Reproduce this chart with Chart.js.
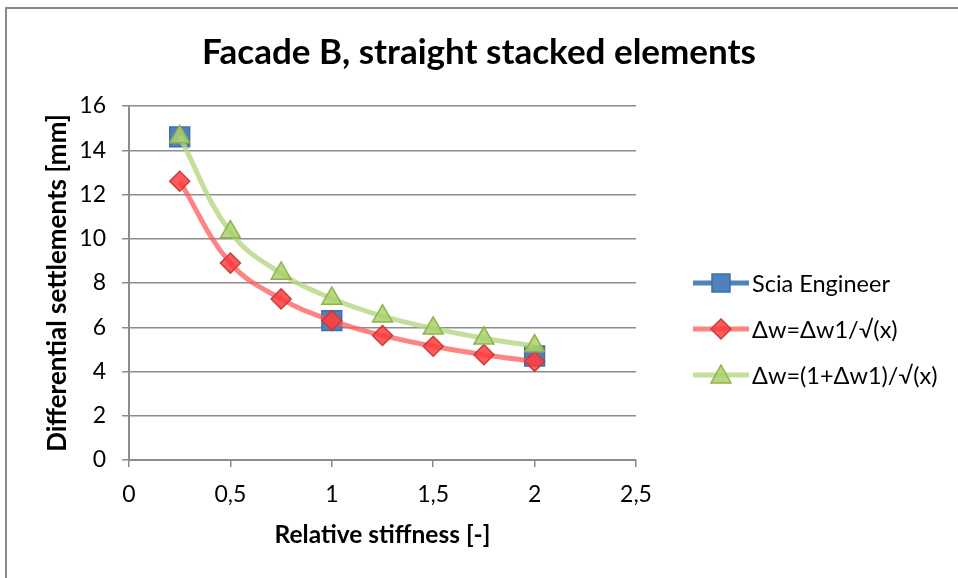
<!DOCTYPE html>
<html>
<head>
<meta charset="utf-8">
<script src="https://cdn.jsdelivr.net/npm/chart.js@4.4.1/dist/chart.umd.min.js"></script>
<style>
    html, body { margin: 0; padding: 0; background: #fff; }
    body { width: 958px; height: 578px; position: relative; overflow: hidden; font-family: Lato, sans-serif; }
    .frame { position: absolute; left: 5px; top: 7px; width: 1200px; height: 1200px; border-left: 2px solid #8a8a8a; border-top: 2px solid #8a8a8a; }
    #chartBox { position: absolute; left: 0; top: 0; width: 958px; height: 578px; }
    #legend { position: absolute; left: 693px; top: 270px; }
    .legend-row { position: absolute; left: 0; height: 26px; display: flex; align-items: center; white-space: nowrap; font-size: 23.5px; color: #000; }
    .legend-row svg { margin-right: 3px; }
</style>
</head>
<body>
<div class="frame"></div>
<div id="chartBox"><canvas id="chart" width="958" height="578"></canvas></div>
<div id="legend"></div>
<script>
// values
const xValues = [0.25, 0.5, 0.75, 1, 1.25, 1.5, 1.75, 2];
const sciaX = [0.25, 1, 2];
const sciaY = [14.6, 6.3, 4.7];
const formulaY = [12.6, 8.9, 7.28, 6.3, 5.63, 5.14, 4.76, 4.46];
const formulaPlusOneY = [14.6, 10.3, 8.43, 7.3, 6.5, 5.95, 5.5, 5.15];
const seriesNames = ['Scia Engineer', 'Δw=Δw1/√(x)', 'Δw=(1+Δw1)/√(x)'];
const yTicks = [0, 2, 4, 6, 8, 10, 12, 14, 16];
const xTicks = [0, 0.5, 1, 1.5, 2, 2.5];

const gridColor = '#8c8c8c';
const toPoints = (xs, ys) => xs.map((x, i) => ({ x: x, y: ys[i] }));

const series = [
    { name: seriesNames[0], data: toPoints(sciaX, sciaY), line: '#4f81bd', fill: '#4f81bd', border: '#3f6fa8', style: 'rect', radius: 14, showLine: false },
    { name: seriesNames[1], data: toPoints(xValues, formulaY), line: 'rgba(255,90,90,0.75)', fill: 'rgba(255,60,60,0.85)', border: '#c0403d', style: 'rectRot', radius: 10, showLine: true },
    { name: seriesNames[2], data: toPoints(xValues, formulaPlusOneY), line: 'rgba(180,215,130,0.8)', fill: 'rgba(170,210,110,0.85)', border: '#8fb34a', style: 'triangle', radius: 11.5, showLine: true }
];

const ctx = document.getElementById('chart').getContext('2d');
new Chart(ctx, {
    type: 'scatter',
    data: {
        datasets: series.map((s, i) => ({
            label: s.name,
            data: s.data,
            showLine: s.showLine,
            borderColor: s.line,
            borderWidth: 5,
            tension: 0.4,
            pointStyle: s.style,
            pointRadius: s.radius,
            pointHoverRadius: s.radius,
            pointBackgroundColor: s.fill,
            pointBorderColor: s.border,
            pointBorderWidth: 1.5,
            order: 3 - i
        }))
    },
    options: {
        responsive: false,
        animation: false,
        layout: { padding: 0 },
        plugins: {
            legend: { display: false },
            tooltip: { enabled: false },
            title: {
                display: true,
                text: 'Facade B, straight stacked elements',
                color: '#000',
                font: { family: 'Lato', size: 35, weight: 'bold' },
                padding: { top: 32, bottom: 32 }
            }
        },
        scales: {
            x: {
                type: 'linear',
                min: 0,
                max: 2.5,
                afterBuildTicks: scale => { scale.ticks = xTicks.map(v => ({ value: v })); },
                afterFit: scale => { scale.height = 118; },
                ticks: {
                    color: '#000',
                    font: { family: 'Lato', size: 23 },
                    padding: 14,
                    maxRotation: 0,
                    callback: v => String(v).replace('.', ',')
                },
                grid: { drawOnChartArea: false, drawTicks: true, tickLength: 7, color: gridColor, lineWidth: 1.5 },
                border: { color: gridColor, width: 2 },
                title: {
                    display: true,
                    text: 'Relative stiffness [-]',
                    color: '#000',
                    font: { family: 'Lato', size: 24.5, weight: 'bold' },
                    padding: { top: 0, bottom: 28 }
                }
            },
            y: {
                type: 'linear',
                min: 0,
                max: 16,
                afterBuildTicks: scale => { scale.ticks = yTicks.map(v => ({ value: v })); },
                afterFit: scale => { scale.width = 129; },
                ticks: {
                    color: '#000',
                    font: { family: 'Lato', size: 23 },
                    padding: 16
                },
                grid: { color: gridColor, lineWidth: 1.5, tickLength: 7 },
                border: { color: gridColor, width: 2 },
                title: {
                    display: true,
                    text: 'Differential settlements [mm]',
                    color: '#000',
                    font: { family: 'Lato', size: 26, weight: 'bold' },
                    padding: { top: 42, bottom: 0 }
                }
            },
            // empty right-hand axis keeps room for the legend
            spacer: {
                type: 'linear',
                position: 'right',
                afterFit: scale => { scale.width = 958 - 636; },
                ticks: { display: false },
                grid: { display: false },
                border: { display: false }
            }
        }
    }
});

// legend: line with marker, then the series name
const markerSvg = s => {
    let shape = '';
    if (s.style === 'rect') shape = '<rect x="19" y="3" width="18" height="18" fill="' + s.fill + '" stroke="' + s.border + '" stroke-width="1.5"/>';
    if (s.style === 'rectRot') shape = '<polygon points="28,2 38,12 28,22 18,12" fill="' + s.fill + '" stroke="' + s.border + '" stroke-width="1.5"/>';
    if (s.style === 'triangle') shape = '<polygon points="28,2 38,20 18,20" fill="' + s.fill + '" stroke="' + s.border + '" stroke-width="1.5"/>';
    return '<svg width="56" height="24" viewBox="0 0 56 24"><line x1="0" y1="12" x2="56" y2="12" stroke="' + s.line + '" stroke-width="5" stroke-linecap="round"/>' + shape + '</svg>';
};
const legendTops = [0, 46, 92];
document.getElementById('legend').innerHTML = series.map((s, i) => `
    <div class="legend-row" style="top:${legendTops[i]}px">${markerSvg(s)}<span>${s.name}</span></div>
`).join('');
</script>
</body>
</html>
